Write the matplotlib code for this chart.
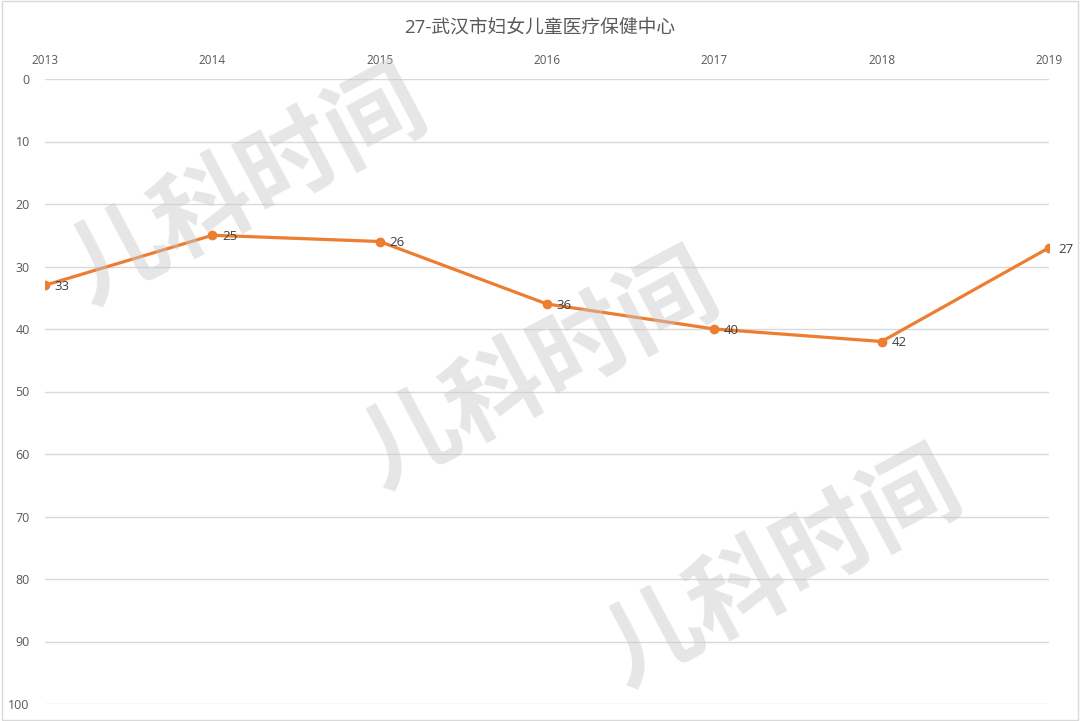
import matplotlib
matplotlib.use("Agg")
import matplotlib.pyplot as plt
from matplotlib.patches import Rectangle

plt.rcParams['font.family'] = ['Open Sans', 'Noto Sans CJK SC', 'DejaVu Sans']

# data
years = ['2013', '2014', '2015', '2016', '2017', '2018', '2019']
ranks = [33, 25, 26, 36, 40, 42, 27]
title = '27-武汉市妇女儿童医疗保健中心'
watermark = '儿科时间'

fig = plt.figure(figsize=(10.8, 7.21), dpi=100)
ax = fig.add_axes([45 / 1080, 1 - 704 / 721, 1004 / 1080, 625 / 721])

x = list(range(len(years)))
ax.plot(x, ranks, color='#ED7D31', lw=2.3, marker='o', ms=6, zorder=5,
        solid_capstyle='round')
for xi, v in zip(x, ranks):
    ax.annotate(str(v), (xi, v), xytext=(7, -1), textcoords='offset points',
                va='center', ha='left', fontsize=9.5, color='#404040', zorder=6)

ax.set_xlim(0, len(years) - 1)
ax.set_ylim(100, 0)
ax.set_yticks(range(0, 101, 10))
ax.set_xticks(x)
ax.set_xticklabels(years)
ax.xaxis.tick_top()
ax.tick_params(axis='x', length=0, pad=9, labelsize=8.5, labelcolor='#595959')
ax.tick_params(axis='y', length=0, pad=11, labelsize=9, labelcolor='#595959')
ax.grid(axis='y', color='#d9d9d9', lw=1)
ax.grid(axis='x', visible=False)
for s in ax.spines.values():
    s.set_visible(False)
ax.set_axisbelow(True)

fig.text(0.5, 1 - 28 / 721, title, ha='center', va='center', fontsize=13.5,
         color='#595959', family=['Open Sans', 'Noto Sans CJK SC'])

# watermark
for cx, cy in [(248, 188), (540, 372), (783, 570)]:
    fig.text(cx / 1080, 1 - cy / 721, watermark, ha='center', va='center',
             rotation=28, fontsize=70, fontweight='heavy', color='#c8c8c8',
             alpha=0.45, family='Noto Sans CJK SC', style='italic',
             rotation_mode='anchor', zorder=2)

fig.patches.append(Rectangle((0.002, 0.002), 0.996, 0.996, transform=fig.transFigure,
                             fill=False, ec='#d9d9d9', lw=1))

fig.savefig('out.png', dpi=100, facecolor='white')
